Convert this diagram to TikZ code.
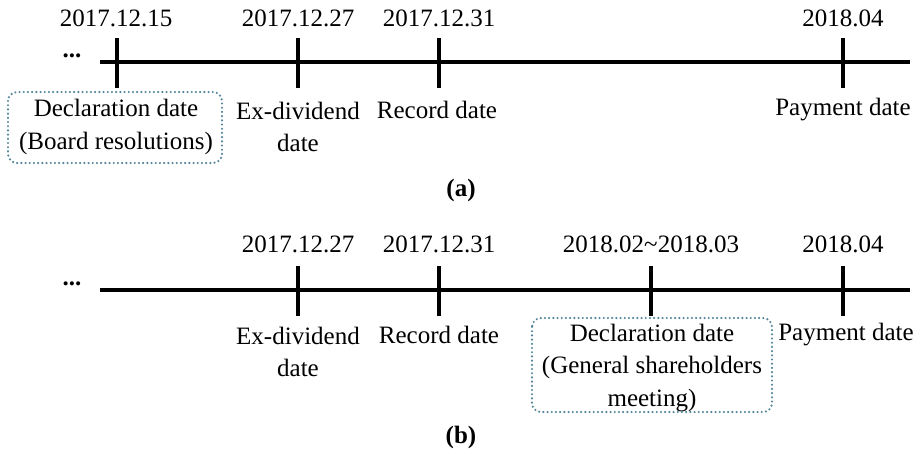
\documentclass[tikz,border=0pt]{standalone}
\usepackage{fontspec}
\setmainfont{Liberation Serif}
\definecolor{boxc}{RGB}{84,134,156}
\begin{document}
\begin{tikzpicture}[x=1pt,y=-1pt,
  every node/.style={font=\fontsize{25}{32.5}\selectfont, inner sep=0pt},
  axisln/.style={line width=3.5pt},
  tickln/.style={line width=3.5pt},
  lbl/.style={align=center},
  decl/.style={draw=boxc, line width=2.4pt, line cap=round, dash pattern=on 0pt off 4.2pt, rounded corners=9pt},
  captxt/.style={font=\fontsize{25}{32}\selectfont\bfseries}]
\useasboundingbox (0,0) rectangle (922,451);
% ---------- (a)
\coordinate (a0) at (100,62);
\coordinate (a1) at (910,62);
\draw[axisln] (a0) -- (a1);
\node (adots) at (72,56) {\textbf{...}};
\foreach \n/\x in {t1/117,t2/298,t3/439,t4/843}{
  \coordinate (a\n u) at (\x,38);
  \coordinate (a\n d) at (\x,88);
  \draw[tickln] (a\n u) -- (a\n d);
}
\node (ad1) at (116,18) {2017.12.15};
\node (ad2) at (298,18) {2017.12.27};
\node (ad3) at (439,18) {2017.12.31};
\node (ad4) at (843,18) {2018.04};
\node[lbl] (al1) at (116,127) {Declaration date\\(Board resolutions)};
\draw[decl] (8,92) rectangle (222,163);
\node[lbl] (al2) at (298,127) {Ex-dividend\\date};
\node (al3) at (437,110) {Record date};
\node (al4) at (843,110) {Payment date};
\node[captxt] (capa) at (461,190) {(a)};
% ---------- (b)
\coordinate (b0) at (100,290);
\coordinate (b1) at (910,290);
\draw[axisln] (b0) -- (b1);
\node (bdots) at (72,284) {\textbf{...}};
\foreach \n/\x in {t1/298,t2/439,t3/651,t4/843}{
  \coordinate (b\n u) at (\x,266);
  \coordinate (b\n d) at (\x,316);
  \draw[tickln] (b\n u) -- (b\n d);
}
\node (bd1) at (298,244) {2017.12.27};
\node (bd2) at (439,244) {2017.12.31};
\node (bd3) at (651,244) {2018.02\textasciitilde 2018.03};
\node (bd4) at (843,244) {2018.04};
\node[lbl] (bl1) at (298,352) {Ex-dividend\\date};
\node (bl2) at (439,335) {Record date};
\node[lbl] (bl3) at (652,368) {Declaration date\\(General shareholders\\meeting)};
\draw[decl] (532,318) rectangle (772,412);
\node (bl4) at (846,335) {Payment date};
\node[captxt] (capb) at (461,437) {(b)};
\end{tikzpicture}
\end{document}
